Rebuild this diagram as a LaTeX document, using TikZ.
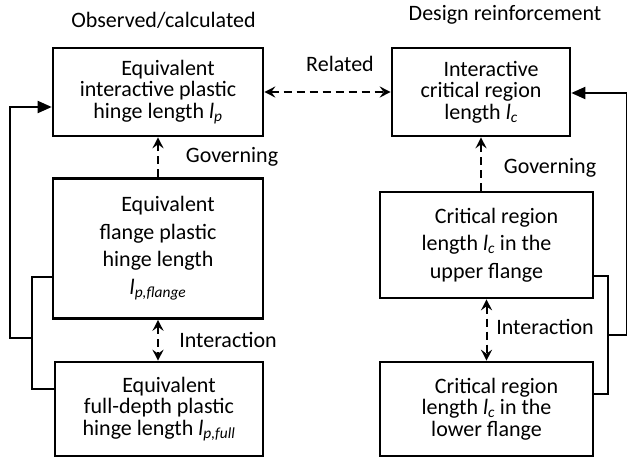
\documentclass[tikz,border=0pt]{standalone}
\usepackage{fontspec}
\setmainfont{Carlito}
\usetikzlibrary{arrows.meta}
\newcommand{\firstind}{\hspace*{20pt}}
\newcommand{\ivar}[2]{\textit{#1\textsubscript{#2}}}
\begin{document}
\begin{tikzpicture}[x=1pt,y=-1pt,
  box/.style={draw, line width=2.6pt, rectangle, inner sep=0pt, align=center,
    font=\fontsize{22}{21.5}\selectfont},
  tallbox/.style={box, font=\fontsize{22}{27.5}\selectfont},
  lbl/.style={font=\fontsize{22}{22}\selectfont, inner sep=0pt},
  dashar/.style={line width=2pt, dash pattern=on 8pt off 5pt,
    {Stealth[length=11pt,width=11pt,inset=4pt]}-{Stealth[length=11pt,width=11pt,inset=4pt]}},
  dashone/.style={line width=2pt, dash pattern=on 8pt off 5pt,
    -{Stealth[length=11pt,width=11pt,inset=4pt]}},
  fb/.style={line width=1.7pt},
  fbar/.style={line width=1.9pt, -{Triangle[length=14pt,width=12pt]}}
]
\useasboundingbox (0,0) rectangle (628,458);

% titles
\node[lbl] (t1) at (163.5,20) {Observed/calculated};
\node[lbl] (t2) at (505,15) {Design reinforcement};

% left column
\node[box, minimum width=210pt, minimum height=88pt] (L1) at (158,92)
  {\firstind Equivalent\\interactive plastic\\hinge length \ivar{l}{p}};
\node[tallbox, minimum width=210pt, minimum height=140pt] (L2) at (158,248.5)
  {\firstind Equivalent\\flange plastic\\hinge length\\\ivar{l}{p,flange}};
\node[box, minimum width=208pt, minimum height=94pt] (L3) at (159,409)
  {\firstind Equivalent\\full-depth plastic\\hinge length \ivar{l}{p,full}};

% right column
\node[box, minimum width=178pt, minimum height=88pt] (R1) at (481,92)
  {\firstind Interactive\\critical region\\length \ivar{l}{c}};
\node[tallbox, minimum width=213pt, minimum height=106pt] (R2) at (486.5,245)
  {\firstind Critical region\\length \ivar{l}{c} in the\\upper flange};
\node[box, minimum width=213pt, minimum height=94pt] (R3) at (486.5,409)
  {\firstind Critical region\\length \ivar{l}{c} in the\\lower flange};

% labels
\node[lbl] (rel) at (340,64) {Related};
\node[lbl] (govL) at (232,157) {Governing};
\node[lbl] (govR) at (550,168) {Governing};
\node[lbl] (intL) at (228,340) {Interaction};
\node[lbl] (intR) at (545,327) {Interaction};

% dashed connectors
\draw[dashar] (L1.east) -- (R1.west);
\draw[dashone] (L2.north) -- (L1.south);
\draw[dashone] (R2.north -| R1.south) -- (R1.south);
\draw[dashar] (L2.south) -- (L3.north -| L2.south);
\draw[dashar] (R2.south) -- (R3.north);

% feedback left
\coordinate (lj) at (32,338);
\coordinate (lo) at (10,338);
\draw[fb] (L2.west |- 0,277) -| (32,389) -- (L3.west |- 0,389);
\draw[fbar] (lj) -- (lo) |- (L1.west |- 0,107);

% feedback right
\coordinate (rj) at (608,335);
\coordinate (ro) at (626.5,335);
\draw[fb] (R2.east |- 0,276) -| (608,394) -- (R3.east |- 0,394);
\draw[fbar] (rj) -- (ro) |- (R1.east |- 0,93);
\end{tikzpicture}
\end{document}
